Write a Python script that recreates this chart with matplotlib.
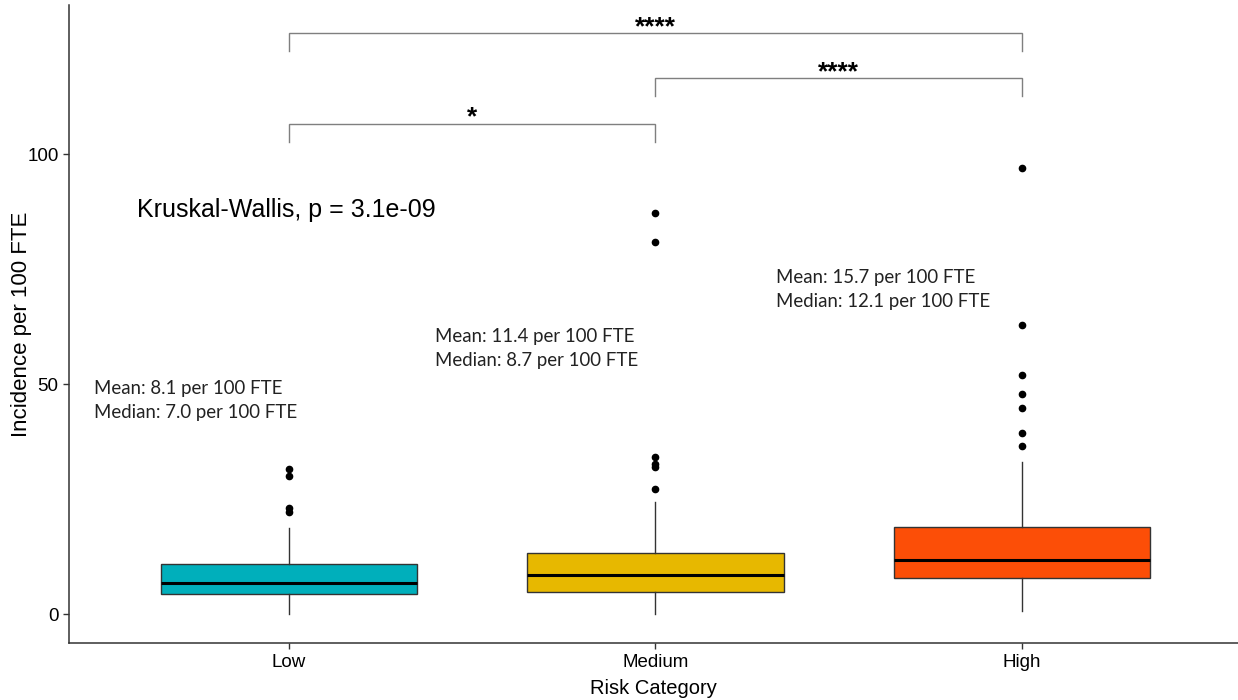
import matplotlib
matplotlib.use("Agg")
import matplotlib.pyplot as plt

# box statistics (incidence per 100 FTE)
categories = ["Low", "Medium", "High"]
q1 = [4.4, 4.9, 8.0]
medians = [6.9, 8.5, 11.9]
q3 = [10.9, 13.3, 19.0]
whisker_lo = [0.0, 0.0, 0.8]
whisker_hi = [18.7, 24.5, 33.2]
outliers = [
    [31.7, 30.0, 23.2, 22.2],
    [87.2, 81.0, 34.3, 32.7, 32.1, 27.2],
    [97.1, 63.0, 52.0, 47.9, 44.9, 39.4, 36.7],
]
colors = ["#00AFBB", "#E7B800", "#FC4E07"]

mean_labels = ["Mean: 8.1 per 100 FTE", "Mean: 11.4 per 100 FTE", "Mean: 15.7 per 100 FTE"]
median_labels = ["Median: 7.0 per 100 FTE", "Median: 8.7 per 100 FTE", "Median: 12.1 per 100 FTE"]

# pairwise comparisons: (group a, group b, bracket height, label)
comparisons = [(1, 2, 106.7, "*"), (2, 3, 116.5, "****"), (1, 3, 126.3, "****")]
kw_label = "Kruskal-Wallis, p = 3.1e-09"

plt.rcParams['font.family'] = ['Liberation Sans', 'DejaVu Sans']

fig = plt.figure(figsize=(12.38, 7), dpi=100)
ax = fig.add_axes([0.0557, 0.081, 0.9443, 0.912])

stats = []
for i in range(len(categories)):
    stats.append({
        "label": categories[i], "q1": q1[i], "med": medians[i], "q3": q3[i],
        "whislo": whisker_lo[i], "whishi": whisker_hi[i], "fliers": outliers[i],
    })

bp = ax.bxp(stats, positions=[1, 2, 3], widths=0.7, patch_artist=True, showcaps=False,
            boxprops=dict(edgecolor="#333333", linewidth=1.0),
            medianprops=dict(color="black", linewidth=2.2),
            whiskerprops=dict(color="#333333", linewidth=1.0),
            flierprops=dict(marker="o", markerfacecolor="black", markeredgecolor="black",
                            markersize=4.5, linestyle="none"))
for patch, c in zip(bp["boxes"], colors):
    patch.set_facecolor(c)

# significance brackets
for a, b, h, lab in comparisons:
    ax.plot([a, a, b, b], [h - 3.9, h, h, h - 3.9], color="#7f7f7f", linewidth=1.0,
            solid_joinstyle="miter")
    ax.text((a + b) / 2, h - 1.3, lab, ha="center", va="bottom", fontsize=19,
            fontweight="bold", color="black")

ax.text(0.587, 87.9, kw_label, ha="left", va="center", fontsize=18, color="black")

# summary annotations
ann_x = [0.467, 1.399, 2.328]
ann_y = [49.0, 60.3, 73.3]
for i in range(3):
    ax.text(ann_x[i], ann_y[i], mean_labels[i], ha="left", va="center", fontsize=13.4,
            family=["Lato", "DejaVu Sans"], color="#222222")
    ax.text(ann_x[i], ann_y[i] - 5.2, median_labels[i], ha="left", va="center", fontsize=13.4,
            family=["Lato", "DejaVu Sans"], color="#222222")

ax.set_xlim(0.4, 3.59)
ax.set_ylim(-6.3, 132.5)
ax.set_yticks([0, 50, 100])
ax.set_xticks([1, 2, 3])
ax.set_xticklabels(categories)
ax.tick_params(axis="both", labelsize=13.5, colors="#333333", labelcolor="black", length=4, width=1)
ax.set_xlabel("Risk Category", fontsize=14.5, labelpad=6)
ax.set_ylabel("Incidence per 100 FTE", fontsize=16)
ax.yaxis.set_label_coords(-0.032, 0.5)

for s in ["top", "right"]:
    ax.spines[s].set_visible(False)
for s in ["left", "bottom"]:
    ax.spines[s].set_color("#333333")
    ax.spines[s].set_linewidth(1.1)

fig.savefig("out.png", dpi=100)
